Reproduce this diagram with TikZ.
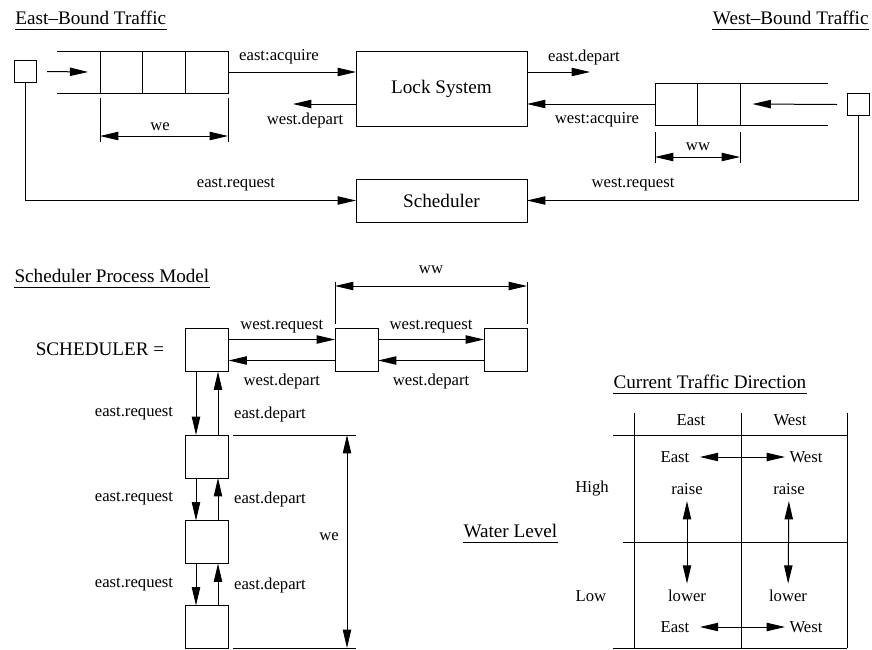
\documentclass[tikz,border=0pt]{standalone}
\usepackage{fontspec}
\setmainfont{Liberation Serif}
\usetikzlibrary{arrows.meta,positioning}

\begin{document}
\begin{tikzpicture}
			[
				x = 0.6pt, y = -0.6pt,
				line width = 0.6pt,
				> = {Triangle[length=11pt,width=5pt]},
				lbl/.style = {font=\fontsize{10}{12}\selectfont, inner sep=0pt},
				big/.style = {font=\fontsize{11.5}{14}\selectfont, inner sep=0pt},
				title/.style = {big, anchor=base west, inner ysep=3pt, text depth=0pt},
				cell/.style = {draw, minimum width=25.6pt, minimum height=25.2pt, inner sep=0pt, outer sep=0pt},
				state/.style = {draw, minimum size=25.8pt, inner sep=0pt, outer sep=0pt},
				src/.style = {draw, minimum size=13.2pt, inner sep=0pt, outer sep=0pt},
				box/.style = {draw, big, minimum width=102.6pt, outer sep=0pt}
			]
			\useasboundingbox (0,0) rectangle (872,649);

			\node[title] (tEast) at (15,24) {East--Bound Traffic};
			\draw (tEast.south west) -- (tEast.south east);
			\node[title, anchor=base east] (tWest) at (869,24) {West--Bound Traffic};
			\draw (tWest.south west) -- (tWest.south east);

			\node[src] (sqE) at (25,71.5) {};
			\node[cell] (qe1) at (121.5,72) {};
			\node[cell, right=0pt of qe1] (qe2) {};
			\node[cell, right=0pt of qe2] (qe3) {};
			\draw (qe1.north west) -- ++(-43,0);
			\draw (qe1.south west) -- ++(-43,0);
			\draw[->] ([xshift=6.6pt]sqE.east) -- ([xshift=-7.2pt]qe1.west);

			\node[box, minimum height=45pt] (lock) at (441.5,88.5) {Lock System};
			\node[box, minimum height=25.8pt] (sched) at (441.5,200.5) {Scheduler};

			\node[cell] (qw1) at (676.5,104) {};
			\node[cell, right=0pt of qw1] (qw2) {};
			\draw (qw2.north east) -- ++(87,0);
			\draw (qw2.south east) -- ++(87,0);
			\node[src] (sqW) at (858,104.5) {};
			\draw[->] ([xshift=-6pt]sqW.west) -- ([xshift=7.2pt]qw2.east);

			\coordinate (wdEnd) at (293,104);
			\coordinate (edEnd) at (590,72);
			\draw[->] (qe3.east) -- (qe3.east -| lock.west);
			\draw[->] (lock.west |- wdEnd) -- (wdEnd);
			\draw[->] (lock.east |- edEnd) -- (edEnd);
			\draw[->] (qw1.west) -- (qw1.west -| lock.east);
			\draw[->] (sqE.south) |- (sched.west);
			\draw[->] (sqW.south) |- (sched.east);

			\node[lbl] (lEacq) at (279,57) {east:acquire};
			\node[lbl] (lWdep) at (305,120) {west.depart};
			\node[lbl] (lEdep) at (584,57) {east.depart};
			\node[lbl] (lWacq) at (597,120) {west:acquire};
			\node[lbl] (lEreq) at (236,185) {east.request};
			\node[lbl] (lWreq) at (633,185) {west.request};

			\draw (100,98) -- (100,142);
			\draw (228,98) -- (228,142);
			\draw[<->] (100,136) -- (228,136);
			\node[lbl] (dWe) at (160,127) {we};
			\draw (655,132) -- (655,163);
			\draw (740,132) -- (740,163);
			\draw[<->] (655,157) -- (740,157);
			\node[lbl] (dWw) at (698,147) {ww};

			\node[title] (tModel) at (14,282) {Scheduler Process Model};
			\draw (tModel.south west) -- (tModel.south east);
			\node[big] (eqn) at (100,349) {SCHEDULER =};

			\node[state] (s0) at (207,350) {};
			\node[state] (w1) at (356.5,350) {};
			\node[state] (w2) at (505.5,350) {};
			\node[state] (e1) at (207,456.5) {};
			\node[state] (e2) at (207,542) {};
			\node[state] (e3) at (207,627) {};

			\draw[->] ([yshift=6.3pt]s0.east) -- ([yshift=6.3pt]w1.west)
				node[lbl, midway, above=3.3pt] (r1) {west.request};
			\draw[->] ([yshift=-6.3pt]w1.west) -- ([yshift=-6.3pt]s0.east)
				node[lbl, midway, below=8pt] (d1) {west.depart};
			\draw[->] ([yshift=6.3pt]w1.east) -- ([yshift=6.3pt]w2.west)
				node[lbl, midway, above=3.3pt] (r2) {west.request};
			\draw[->] ([yshift=-6.3pt]w2.west) -- ([yshift=-6.3pt]w1.east)
				node[lbl, midway, below=8pt] (d2) {west.depart};

			\draw[->] ([xshift=-6.6pt]s0.south) -- ([xshift=-6.6pt]e1.north);
			\draw[->] ([xshift=6.6pt]e1.north) -- ([xshift=6.6pt]s0.south);
			\draw[->] ([xshift=-6.6pt]e1.south) -- ([xshift=-6.6pt]e2.north);
			\draw[->] ([xshift=6.6pt]e2.north) -- ([xshift=6.6pt]e1.south);
			\draw[->] ([xshift=-6.6pt]e2.south) -- ([xshift=-6.6pt]e3.north);
			\draw[->] ([xshift=6.6pt]e3.north) -- ([xshift=6.6pt]e2.south);
			\node[lbl] (er1) at (134,414) {east.request};
			\node[lbl] (ed1) at (270,414) {east.depart};
			\node[lbl] (er2) at (134,499) {east.request};
			\node[lbl] (ed2) at (270,499) {east.depart};
			\node[lbl] (er3) at (134,585) {east.request};
			\node[lbl] (ed3) at (270,585) {east.depart};

			\draw (335,282) -- (335,324);
			\draw (527,282) -- (527,324);
			\draw[<->] (335,286) -- (527,286);
			\node[lbl] (mWw) at (431,270) {ww};
			\draw (233,435) -- (356,435);
			\draw (233,648) -- (356,648);
			\draw[<->] (347,435) -- (347,648);
			\node[lbl] (mWe) at (329,537) {we};

			\node[title] (tDir) at (613,388) {Current Traffic Direction};
			\draw (tDir.south west) -- (tDir.south east);
			\node[title] (tLevel) at (463,537) {Water Level};
			\draw (tLevel.south west) -- (tLevel.south east);

			\draw (634,413) -- (634,648);
			\draw (741,413) -- (741,648);
			\draw (847,413) -- (847,648);
			\draw (613,435) -- (847,435);
			\draw (623,542) -- (847,542);
			\draw (613,648) -- (847,648);

			\node[lbl] (hEast) at (691,420) {East};
			\node[lbl] (hWest) at (790,420) {West};
			\node[lbl] (hHigh) at (592,489) {High};
			\node[lbl] (hLow) at (591,596) {Low};

			\node[lbl] (eTop) at (675,457) {East};
			\node[lbl] (wTop) at (806,457) {West};
			\node[lbl] (eBot) at (675,627) {East};
			\node[lbl] (wBot) at (806,627) {West};
			\node[lbl] (raE) at (687,489) {raise};
			\node[lbl] (raW) at (789,489) {raise};
			\node[lbl] (loE) at (687,596) {lower};
			\node[lbl] (loW) at (788,596) {lower};
			\draw[<->, shorten <=6pt, shorten >=2.4pt] (eTop) -- (wTop);
			\draw[<->, shorten <=6pt, shorten >=2.4pt] (eBot) -- (wBot);
			\draw[<->, shorten <=3.6pt, shorten >=3.6pt] (raE) -- (loE);
			\draw[<->, shorten <=3.6pt, shorten >=3.6pt] (raW) -- (loW);
			\end{tikzpicture}
\end{document}
